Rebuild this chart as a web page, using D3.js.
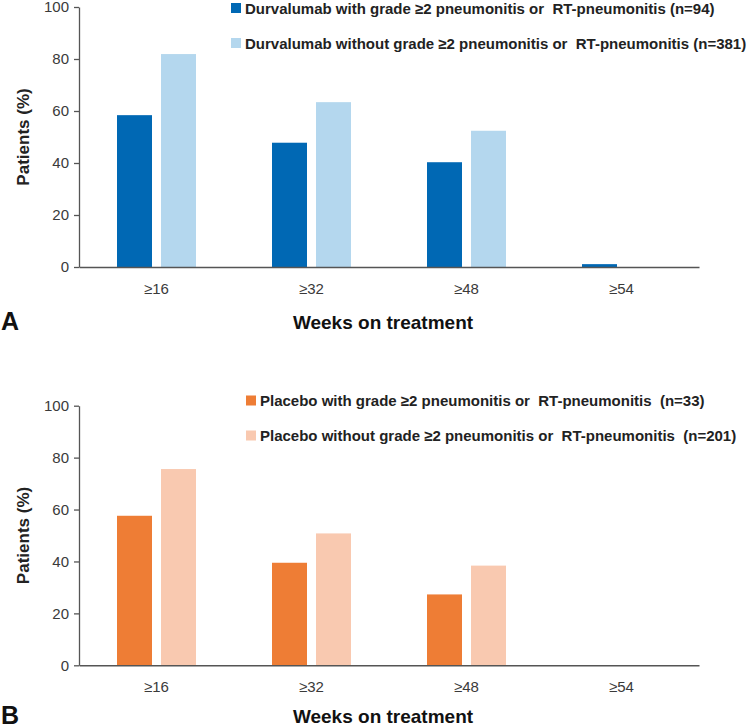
<!DOCTYPE html>
<html><head><meta charset="utf-8">
<script src="https://cdn.jsdelivr.net/npm/d3@7"></script>
<style>
body{margin:0;background:#fff;}
svg text{font-family:"Liberation Sans",Arial,sans-serif;white-space:pre;}
</style></head>
<body>
<svg id="chart" width="750" height="727"></svg>
<script>
const categories = ["≥16", "≥32", "≥48", "≥54"];
const yTicks = [0, 20, 40, 60, 80, 100];

const durvaLabels = [
  "Durvalumab with grade ≥2 pneumonitis or  RT-pneumonitis (n=94)",
  "Durvalumab without grade ≥2 pneumonitis or  RT-pneumonitis (n=381)"
];
const durvaWith = [58.4, 47.8, 40.3, 1.1];
const durvaWithout = [81.9, 63.4, 52.4, 0];

const placeboLabels = [
  "Placebo with grade ≥2 pneumonitis or  RT-pneumonitis  (n=33)",
  "Placebo without grade ≥2 pneumonitis or  RT-pneumonitis  (n=201)"
];
const placeboWith = [57.6, 39.5, 27.3, 0];
const placeboWithout = [75.6, 50.8, 38.4, 0];

const durvaColors = ["#0068b4", "#b4d7ee"];
const placeboColors = ["#ee7d35", "#f9c9b0"];

const svg = d3.select("#chart");

function drawPanel(o) {
  const g = svg.append("g");
  const x0 = d3.scaleBand().domain(categories).range([79, 699]).paddingInner(0).paddingOuter(0);
  const keys = [0, 1];
  const x1 = d3.scaleBand().domain(keys).range([0, x0.bandwidth()])
    .paddingInner(0.2045).paddingOuter(0.8636);
  const y = d3.scaleLinear().domain([0, 100]).range([o.y0, o.y100]);

  const data = categories.map((c, i) => ({c, v: [o.s1[i], o.s2[i]]}));
  g.selectAll("g.grp").data(data).join("g")
    .attr("transform", d => `translate(${x0(d.c)},0)`)
    .selectAll("rect").data(d => d.v.map((v, k) => ({k, v})))
    .join("rect")
    .attr("x", d => x1(d.k)).attr("width", x1.bandwidth())
    .attr("y", d => y(d.v)).attr("height", d => y(0) - y(d.v))
    .attr("fill", d => o.colors[d.k]);

  // y axis
  const ya = g.append("g").attr("transform", "translate(79,0)")
    .call(d3.axisLeft(y).tickValues(yTicks).tickSize(5).tickPadding(5).tickSizeOuter(0));
  ya.select(".domain").attr("stroke", "#555").attr("stroke-width", 1.3);
  ya.selectAll(".tick line").attr("stroke", "#555").attr("stroke-width", 1.3);
  ya.selectAll(".tick text").attr("font-size", 15).attr("fill", "#3a3a3a")
    .style("font-family", "Liberation Sans, Arial, sans-serif");

  // x axis
  const xa = g.append("g").attr("transform", `translate(0,${o.y0})`)
    .call(d3.axisBottom(x0).tickSize(0).tickPadding(16).tickSizeOuter(0));
  xa.select(".domain").attr("stroke", "#555").attr("stroke-width", 1.5);
  xa.selectAll(".tick text").attr("font-size", 15).attr("fill", "#3a3a3a")
    .style("font-family", "Liberation Sans, Arial, sans-serif");

  // y title
  g.append("text").attr("transform", `translate(29,${(o.y0 + o.y100) / 2}) rotate(-90)`)
    .attr("text-anchor", "middle").attr("font-size", 17).attr("font-weight", "bold")
    .attr("fill", "#222").text("Patients (%)");

  // x title
  g.append("text").attr("x", 383).attr("y", o.titleY).attr("text-anchor", "middle")
    .attr("font-size", 19).attr("font-weight", "bold").attr("fill", "#111")
    .text("Weeks on treatment");

  // panel letter
  g.append("text").attr("x", 1).attr("y", o.titleY + 1).attr("font-size", 25)
    .attr("font-weight", "bold").attr("fill", "#111").text(o.letter);

  // legend
  o.labels.forEach((lab, i) => {
    const cy = o.legY + i * 35;
    g.append("rect").attr("x", o.legX).attr("y", cy - 5).attr("width", 10).attr("height", 10)
      .attr("fill", o.colors[i]);
    g.append("text").attr("x", o.legX + 14).attr("y", cy + 5.5).attr("font-size", 15)
      .attr("font-weight", "bold").attr("fill", "#222").text(lab);
  });
}

drawPanel({s1: durvaWith, s2: durvaWithout, colors: durvaColors, labels: durvaLabels,
  y0: 267, y100: 7, letter: "A", legX: 231, legY: 8, titleY: 329});
drawPanel({s1: placeboWith, s2: placeboWithout, colors: placeboColors, labels: placeboLabels,
  y0: 665.3, y100: 405.7, letter: "B", legX: 246, legY: 400.5, titleY: 723});
</script>
</body></html>
